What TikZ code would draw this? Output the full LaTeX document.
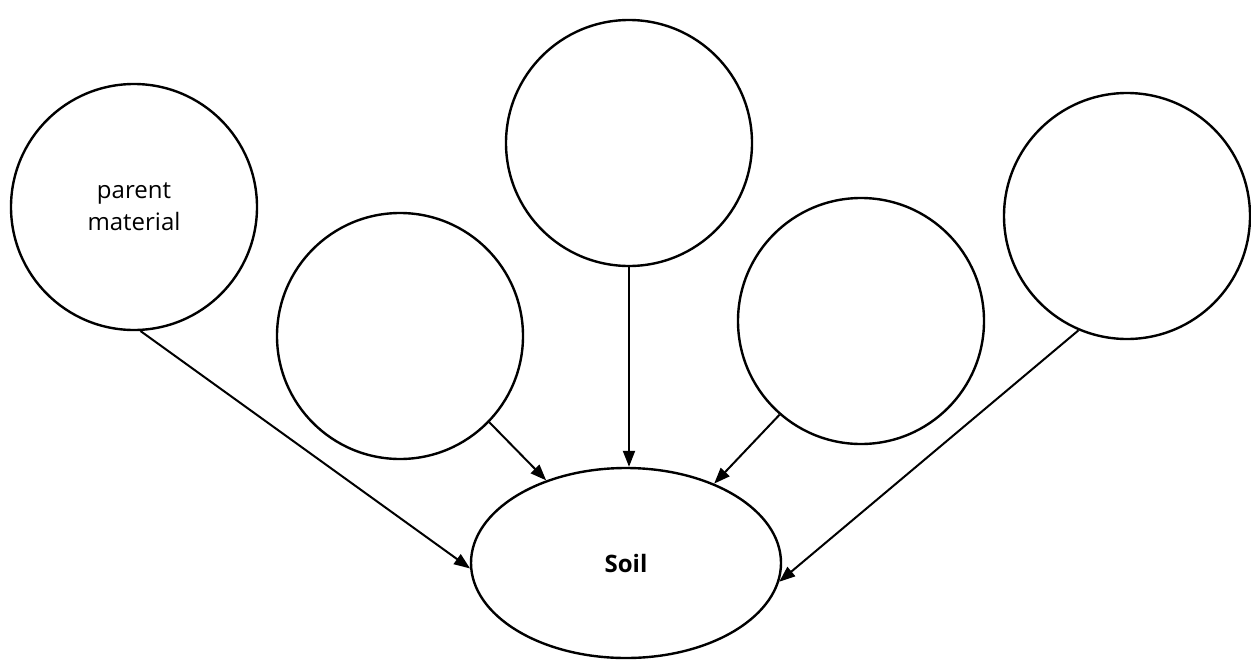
\documentclass[tikz,border=0pt]{standalone}
\usepackage{fontspec}
\setmainfont{Open Sans}
\usetikzlibrary{arrows.meta,shapes.geometric}
\begin{document}
\begin{tikzpicture}[x=0.5pt,y=-0.5pt,
  factor/.style={circle,draw,line width=1.2pt,minimum size=123pt,inner sep=0pt,
    align=center,font=\fontsize{12}{16}\selectfont},
  soilnode/.style={ellipse,draw,line width=1.2pt,minimum width=155pt,
    minimum height=95pt,inner sep=0pt,font=\bfseries\fontsize{12}{16}\selectfont},
  link/.style={line width=1pt,-{Triangle[length=8pt,width=6pt]}}]
\useasboundingbox (0,0) rectangle (1251,664);

% soil-forming factors
\node[factor] (c1) at (134,207) {parent\\material};
\node[factor] (c2) at (400,336) {};
\node[factor] (c3) at (629,143) {};
\node[factor] (c4) at (861,321) {};
\node[factor] (c5) at (1127,216) {};

% the soil they act on
\node[soilnode] (soil) at (626,563) {Soil};

% influences
\draw[link] (c1.-87) -- (soil.182);
\draw[link] (c2.-44) -- (soil.134);
\draw[link] (c3.south) -- (c3.south |- soil.north);
\draw[link] (c4.-131) -- (soil.42);
\draw[link] (c5.-113) -- (soil.-7);
\end{tikzpicture}
\end{document}
